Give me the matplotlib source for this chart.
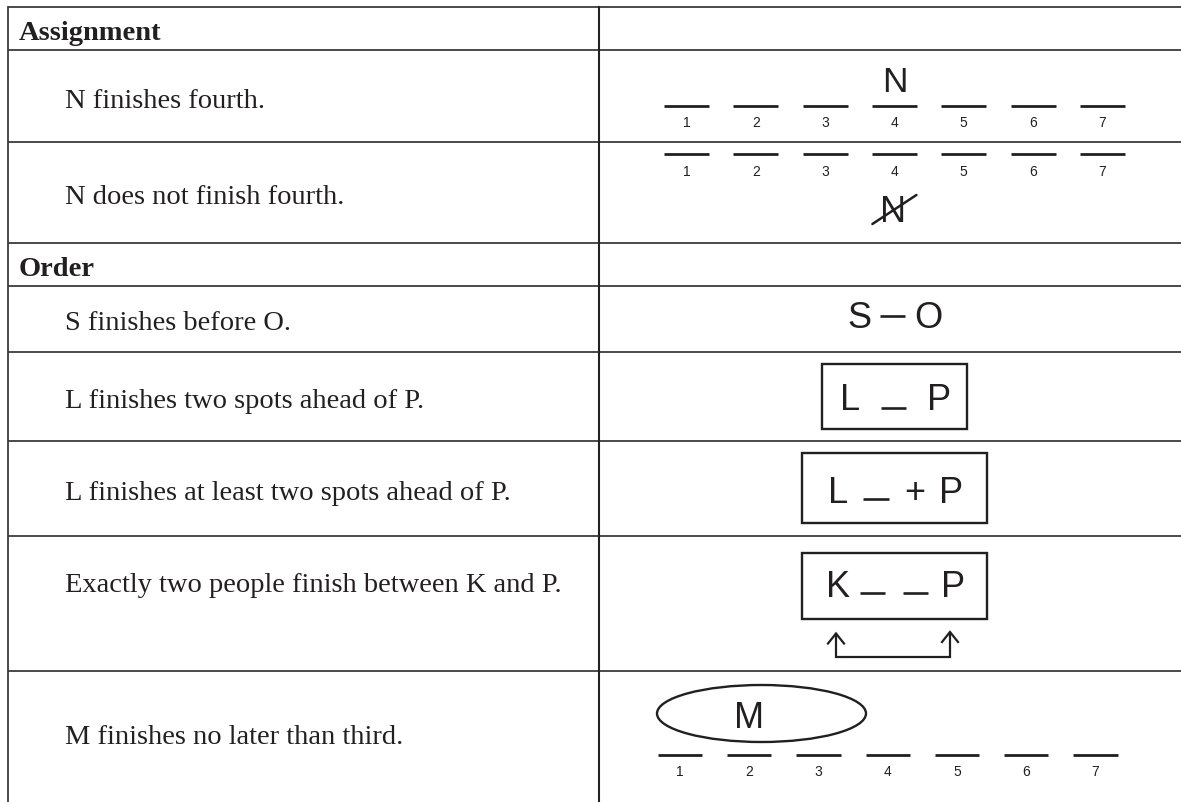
import matplotlib
matplotlib.use("Agg")
import matplotlib.pyplot as plt
from matplotlib.patches import Rectangle, Ellipse

# ---------------- content ----------------
section_headers = ["Assignment", "Order"]
rule_texts = [
    "N finishes fourth.",
    "N does not finish fourth.",
    "S finishes before O.",
    "L finishes two spots ahead of P.",
    "L finishes at least two spots ahead of P.",
    "Exactly two people finish between K and P.",
    "M finishes no later than third.",
]
slot_numbers = [1, 2, 3, 4, 5, 6, 7]
assigned_letter = "N"
assigned_slot = 4
order_pair = ["S", "O"]
block_two = ["L", "P"]
block_atleast = ["L", "+", "P"]
block_between = ["K", "P"]
ellipse_letter = "M"

# ---------------- layout (pixel coordinates) ----------------
W, H = 1181, 802
row_lines = [7, 50, 142, 243, 286, 352, 441, 536, 671]
# rows: (top, bottom, kind, label index / header index)
rows = [
    (7, 50, "h", 0),
    (50, 142, "r", 0),
    (142, 243, "r", 1),
    (243, 286, "h", 1),
    (286, 352, "r", 2),
    (352, 441, "r", 3),
    (441, 536, "r", 4),
    (536, 671, "r", 5),
    (671, 802, "r", 6),
]
text_center_override = {5: 583, 6: 735}
left_x, mid_x = 7.5, 599
INK = "#231f20"
LINE = "#3c3c3c"
SANS = "Liberation Sans"
SERIF = "Liberation Serif"

fig = plt.figure(figsize=(W / 100, H / 100), dpi=100)
ax = fig.add_axes([0, 0, 1, 1])
ax.set_xlim(0, W)
ax.set_ylim(H, 0)
ax.axis("off")

# table grid
for y in row_lines:
    ax.plot([left_x, W], [y, y], color=LINE, lw=1.3, solid_capstyle="butt")
ax.plot([left_x, left_x], [row_lines[0], H], color=LINE, lw=1.3)
ax.plot([mid_x, mid_x], [row_lines[0], H], color="#222", lw=1.5)

# left column text
for top, bot, kind, idx in rows:
    if kind == "h":
        ax.text(19, (top + bot) / 2 + 11.5, section_headers[idx], fontfamily=SERIF,
                fontweight="bold", fontsize=20.5, color=INK, va="baseline", ha="left")
    else:
        c = text_center_override.get(idx, (top + bot) / 2 + 2)
        ax.text(65, c + 9.5, rule_texts[idx], fontfamily=SERIF, fontsize=20.5,
                color=INK, va="baseline", ha="left")


def slots(x0, y_dash, y_num, step=69.3, width=45):
    for i, n in enumerate(slot_numbers):
        cx = x0 + i * step
        ax.plot([cx - width / 2, cx + width / 2], [y_dash, y_dash], color=INK,
                lw=2.0, solid_capstyle="butt")
        ax.text(cx, y_num + 5, str(n), fontfamily=SANS, fontsize=10, color=INK,
                ha="center", va="baseline")
    return [x0 + i * step for i in range(len(slot_numbers))]


def letter(x, base, s, size=26):
    ax.text(x, base, s, fontfamily=SANS, fontsize=size, color=INK, ha="center",
            va="baseline")


def dash(x1, x2, y):
    ax.plot([x1, x2], [y, y], color=INK, lw=1.9, solid_capstyle="butt")


def box(x1, y1, x2, y2):
    ax.add_patch(Rectangle((x1, y1), x2 - x1, y2 - y1, fill=False, ec=INK, lw=1.7))


# Row: N finishes fourth
cx = slots(686.5, 105.7, 121.7)
letter(cx[assigned_slot - 1], 92.3, assigned_letter, size=25.5)

# Row: N does not finish fourth
cx = slots(686.5, 154, 170.5)
nx = cx[assigned_slot - 1] - 1
letter(nx, 222, assigned_letter, size=26)
ax.plot([nx - 21, nx + 23], [224, 195], color=INK, lw=1.8, solid_capstyle="round")

# Row: S finishes before O
letter(859, 328, order_pair[0])
dash(880, 905, 315.7)
letter(928, 328, order_pair[1])

# Row: L _ P
box(822, 364, 967, 429)
letter(850, 410, block_two[0])
dash(881, 906, 408)
letter(939, 410, block_two[1])

# Row: L _ + P
box(802, 453, 987, 523)
letter(838, 503, block_atleast[0])
dash(863, 889, 499)
letter(914.5, 503, block_atleast[1])
letter(951, 503, block_atleast[2])

# Row: K _ _ P with arrows
box(802, 553, 987, 619)
letter(838.5, 597, block_between[0])
dash(860, 885, 593)
dash(903, 928, 593)
letter(953, 597, block_between[1])
ax.plot([836, 836, 950, 950], [634, 657, 657, 633], color=INK, lw=1.6,
        solid_joinstyle="miter")
for ax_x, tip in [(836, 633.5), (950, 632)]:
    ax.plot([ax_x - 8, ax_x, ax_x + 8], [tip + 10, tip, tip + 10], color=INK,
            lw=1.6, solid_joinstyle="miter")

# Row: M finishes no later than third
ax.add_patch(Ellipse((761.5, 713.5), 209, 57, fill=False, ec=INK, lw=1.7))
letter(749, 728, ellipse_letter)
slots(680, 755, 771, step=69.25, width=44.3)

fig.savefig("out.png", dpi=100, facecolor="white")
